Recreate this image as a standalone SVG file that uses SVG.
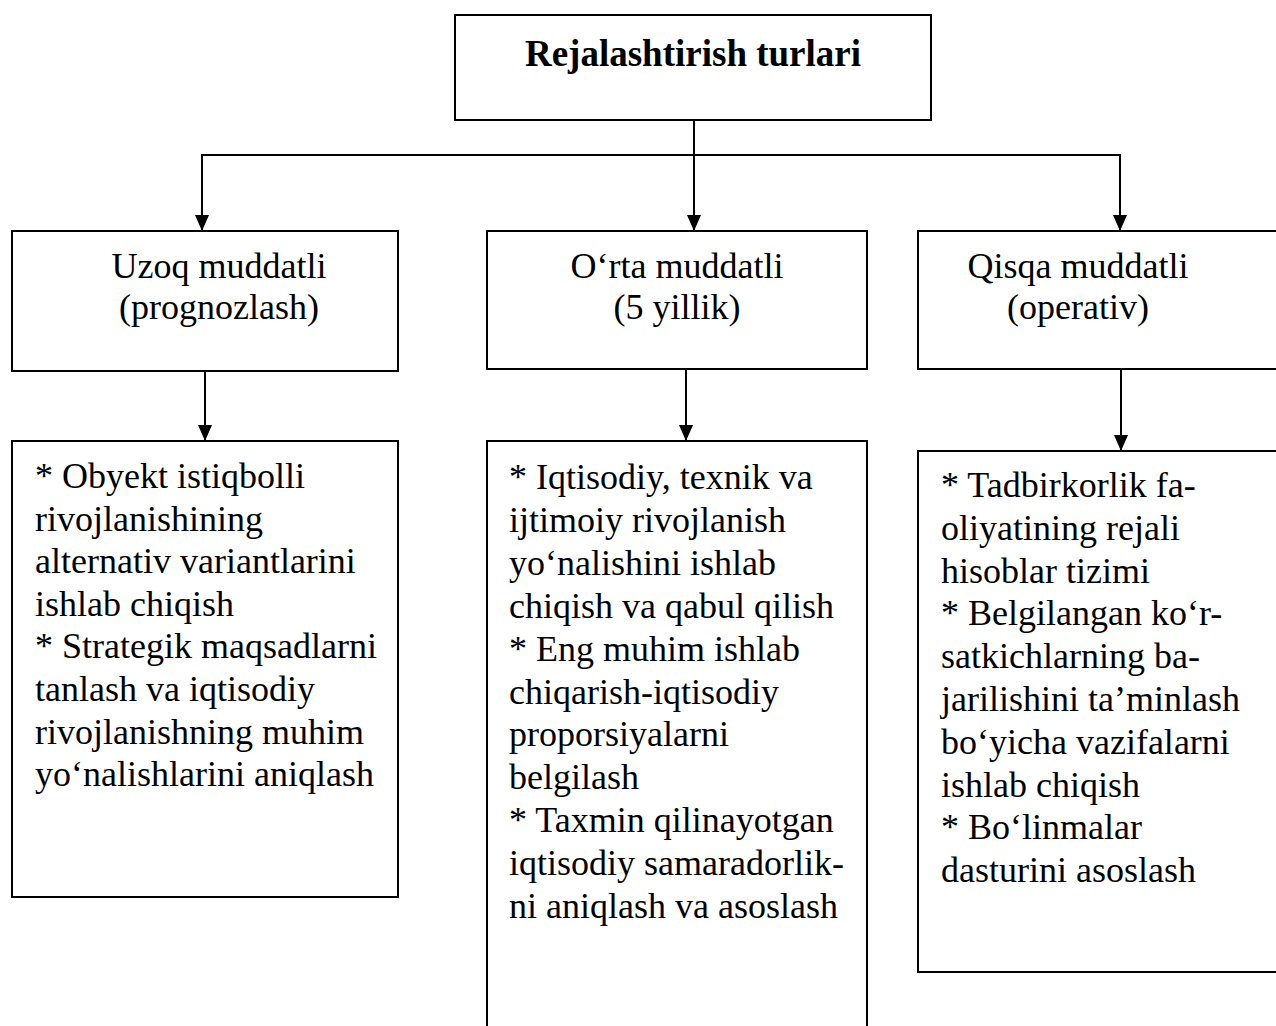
<svg xmlns="http://www.w3.org/2000/svg" width="1276" height="1026" viewBox="0 0 1276 1026">
<style>
.box{fill:#fff;stroke:#000;stroke-width:2}
.t{font-family:"Liberation Serif","Times New Roman",serif;font-size:36px;fill:#000}
.c{text-anchor:middle}
.b{font-weight:bold;font-size:37px}
.ln{stroke:#000;stroke-width:2;fill:none}
</style>
<defs>
<marker id="ah" markerUnits="userSpaceOnUse" markerWidth="16" markerHeight="16" viewBox="0 0 16 14" refX="16" refY="7" orient="auto">
<path d="M0,0 L16,7 L0,14 z" fill="#000"/>
</marker>
</defs>
<rect width="1276" height="1026" fill="#fff"/>
<g id="connectors">
<line class="ln" x1="694" y1="120" x2="694" y2="231" marker-end="url(#ah)"/>
<line class="ln" x1="201" y1="155" x2="1121" y2="155"/>
<line class="ln" x1="202" y1="155" x2="202" y2="231" marker-end="url(#ah)"/>
<line class="ln" x1="1120" y1="155" x2="1120" y2="231" marker-end="url(#ah)"/>
<line class="ln" x1="205" y1="371" x2="205" y2="441" marker-end="url(#ah)"/>
<line class="ln" x1="686" y1="369" x2="686" y2="441" marker-end="url(#ah)"/>
<line class="ln" x1="1121" y1="369" x2="1121" y2="451" marker-end="url(#ah)"/>
</g>
<g id="root">
<rect class="box" x="455" y="15" width="476" height="105"/>
<text class="t c b" x="693" y="66">Rejalashtirish turlari</text>
</g>
<g id="long">
<rect class="box" x="12" y="231" width="386" height="140"/>
<text class="t c" x="219" y="278">Uzoq muddatli</text>
<text class="t c" x="219" y="319">(prognozlash)</text>
</g>
<g id="medium">
<rect class="box" x="487" y="231" width="380" height="138"/>
<text class="t c" x="677" y="278">O‘rta muddatli</text>
<text class="t c" x="677" y="319">(5 yillik)</text>
</g>
<g id="short">
<rect class="box" x="918" y="231" width="380" height="138"/>
<text class="t c" x="1078" y="278">Qisqa muddatli</text>
<text class="t c" x="1078" y="319">(operativ)</text>
</g>
<g id="long-detail">
<rect class="box" x="12" y="441" width="386" height="456"/>
<text class="t" x="35" y="488">
<tspan x="35" y="488">* Obyekt istiqbolli</tspan>
<tspan x="35" dy="42.6">rivojlanishining</tspan>
<tspan x="35" dy="42.6">alternativ variantlarini</tspan>
<tspan x="35" dy="42.6">ishlab chiqish</tspan>
<tspan x="35" dy="42.6">* Strategik maqsadlarni</tspan>
<tspan x="35" dy="42.6">tanlash va iqtisodiy</tspan>
<tspan x="35" dy="42.6">rivojlanishning muhim</tspan>
<tspan x="35" dy="42.6">yo‘nalishlarini aniqlash</tspan>
</text>
</g>
<g id="medium-detail">
<rect class="box" x="487" y="441" width="380" height="600"/>
<text class="t" x="509" y="489">
<tspan x="509" y="489">* Iqtisodiy, texnik va</tspan>
<tspan x="509" dy="42.9">ijtimoiy rivojlanish</tspan>
<tspan x="509" dy="42.9">yo‘nalishini ishlab</tspan>
<tspan x="509" dy="42.9">chiqish va qabul qilish</tspan>
<tspan x="509" dy="42.9">* Eng muhim ishlab</tspan>
<tspan x="509" dy="42.9">chiqarish-iqtisodiy</tspan>
<tspan x="509" dy="42.9">proporsiyalarni</tspan>
<tspan x="509" dy="42.9">belgilash</tspan>
<tspan x="509" dy="42.9">* Taxmin qilinayotgan</tspan>
<tspan x="509" dy="42.9">iqtisodiy samaradorlik-</tspan>
<tspan x="509" dy="42.9">ni aniqlash va asoslash</tspan>
</text>
</g>
<g id="short-detail">
<rect class="box" x="918" y="451" width="380" height="521"/>
<text class="t" x="941" y="497">
<tspan x="941" y="497">* Tadbirkorlik fa-</tspan>
<tspan x="941" dy="42.8">oliyatining rejali</tspan>
<tspan x="941" dy="42.8">hisoblar tizimi</tspan>
<tspan x="941" dy="42.8">* Belgilangan ko‘r-</tspan>
<tspan x="941" dy="42.8">satkichlarning ba-</tspan>
<tspan x="941" dy="42.8">jarilishini ta’minlash</tspan>
<tspan x="941" dy="42.8">bo‘yicha vazifalarni</tspan>
<tspan x="941" dy="42.8">ishlab chiqish</tspan>
<tspan x="941" dy="42.8">* Bo‘linmalar</tspan>
<tspan x="941" dy="42.8">dasturini asoslash</tspan>
</text>
</g>
</svg>
